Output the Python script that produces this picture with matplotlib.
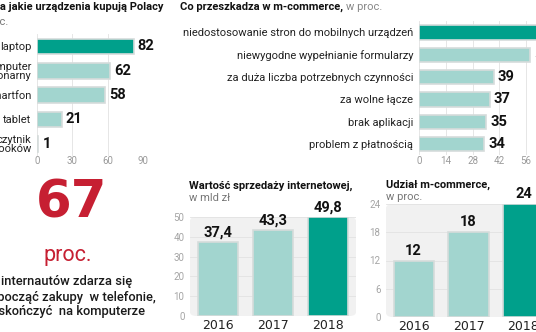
import matplotlib
matplotlib.use('Agg')
import matplotlib.pyplot as plt
from matplotlib import font_manager as fm
from matplotlib.patches import FancyBboxPatch

plt.rcParams['font.family'] = ['Roboto', 'DejaVu Sans']

# dane
urzadzenia = ['laptop', 'komputer\nstacjonarny', 'smartfon', 'tablet', 'czytnik\ne-booków']
urzadzenia_proc = [82, 62, 58, 21, 1]

przeszkody = ['niedostosowanie stron do mobilnych urządzeń', 'niewygodne wypełnianie formularzy',
              'za duża liczba potrzebnych czynności', 'za wolne łącze', 'brak aplikacji',
              'problem z płatnością']
przeszkody_proc = [65, 58, 39, 37, 35, 34]

lata = ['2016', '2017', '2018']
sprzedaz_mld = [37.4, 43.3, 49.8]
udzial_mcommerce = [12, 18, 24]

TEAL = '#00a08b'
LIGHT = '#a2d5cf'
EDGE = '#d6dcdb'
RED = '#c61f32'
W, H = 536, 332

# węższy krój na tytuły, jeśli jest
nazwy = {f.name for f in fm.fontManager.ttflist}
if 'Liberation Sans Narrow' in nazwy:
    TITLE = dict(family='Liberation Sans Narrow', fontsize=9.5, fontweight='bold')
else:
    TITLE = dict(family='Roboto', fontsize=8, fontweight='bold')

fig = plt.figure(figsize=(W / 100, H / 100), dpi=100)
fig.patch.set_facecolor('white')


def axes_px(x0, y0, x1, y1):
    return fig.add_axes([x0 / W, 1 - y1 / H, (x1 - x0) / W, (y1 - y0) / H])


def txt(x, y, s, **kw):
    return fig.text(x / W, 1 - y / H, s, **kw)


def fmt(v):
    return f'{v:g}'.replace('.', ',')


def hbar_panel(ax, labels, values, xmax, step):
    n = len(values)
    pos = list(range(n))
    colors = [TEAL] + [LIGHT] * (n - 1)
    ax.barh(pos, values, height=0.64, color=colors, edgecolor=EDGE, linewidth=1.2, zorder=3)
    for p, v in zip(pos, values):
        ax.annotate(fmt(v), (v, p), xytext=(3, 0), textcoords='offset points',
                    ha='left', va='center', fontsize=10.5, fontweight='bold', color='#111',
                    annotation_clip=False)
    ax.set_ylim(n - 0.5, -0.5)
    ax.set_xlim(0, xmax)
    ax.set_yticks(pos)
    ax.set_yticklabels(labels, fontsize=8, color='#222', linespacing=0.95)
    ax.set_xticks(range(0, xmax + 1, step))
    ax.tick_params(axis='y', length=0, pad=4)
    ax.tick_params(axis='x', length=0, pad=0.3, labelsize=7, labelcolor='#9a9a9a')
    ax.grid(axis='x', color='#e6e6e6', linewidth=0.7, zorder=0)
    for s in ax.spines.values():
        s.set_visible(False)


def vbar_panel(ax, values, ymax, step):
    pos = list(range(len(values)))
    colors = [LIGHT] * (len(values) - 1) + [TEAL]
    ax.patch.set_visible(False)
    ax.add_patch(FancyBboxPatch((0, 0), 1, 1, boxstyle='round,pad=0,rounding_size=0.04',
                                transform=ax.transAxes, fc='#f1f1f1', ec='none', zorder=0))
    ax.bar(pos, values, width=0.73, color=colors, edgecolor=EDGE, linewidth=1.2, zorder=3)
    for p, v in zip(pos, values):
        ax.annotate(fmt(v), (p, v), xytext=(0, 2), textcoords='offset points',
                    ha='center', va='bottom', fontsize=10.5, fontweight='bold', color='#111',
                    annotation_clip=False)
    ax.set_ylim(0, ymax)
    ax.set_yticks(range(0, ymax + 1, step))
    ax.set_xticks(pos)
    ax.set_xticklabels(lata, fontsize=9, color='#222', family='DejaVu Sans')
    ax.tick_params(axis='y', length=0, pad=4, labelsize=7, labelcolor='#a5a5a5')
    ax.tick_params(axis='x', length=0, pad=2.5)
    ax.grid(axis='y', color='#e2e2e2', linewidth=0.6, zorder=1)
    for s in ax.spines.values():
        s.set_visible(False)


# panel 1 - urządzenia
ax1 = axes_px(37, 34.3, 143, 156)
hbar_panel(ax1, urzadzenia, urzadzenia_proc, 90, 30)
txt(163, 7, 'Na jakie urządzenia kupują Polacy', ha='right', va='center', color='#111', **TITLE)
txt(8, 22, 'w proc.', ha='right', va='center', fontsize=8, color='#777')

# panel 2 - przeszkody
ax2 = axes_px(419, 21.3, 553, 155.2)
hbar_panel(ax2, przeszkody, przeszkody_proc, 70, 14)
t = txt(180, 7, 'Co przeszkadza w m-commerce,', ha='left', va='center', color='#111', **TITLE)
fig.canvas.draw()
bb = t.get_window_extent()
txt(bb.x1 + 3, 7, 'w proc.', ha='left', va='center', fontsize=8, color='#888')

# duża liczba
txt(72, 203, '67', ha='center', va='center', fontsize=37, fontweight='bold',
    color=RED, family='DejaVu Sans')
txt(68, 256, 'proc.', ha='center', va='center', fontsize=15.5, fontweight='normal', color=RED)
txt(67, 297, 'internautów zdarza się\nrozpocząć zakupy  w telefonie,\na skończyć  na komputerze',
    ha='center', va='center', fontsize=9.3, fontweight='medium', color='#1a1a1a',
    linespacing=1.2)

# panel 3 - wartość sprzedaży
ax3 = axes_px(190, 217, 356, 316)
vbar_panel(ax3, sprzedaz_mld, 50, 10)
txt(189, 186, 'Wartość sprzedaży internetowej,', ha='left', va='center', color='#111', **TITLE)
txt(189, 198, 'w mld zł', ha='left', va='center', fontsize=8, color='#777')

# panel 4 - udział m-commerce
ax4 = axes_px(386, 204, 551, 317)
vbar_panel(ax4, udzial_mcommerce, 24, 6)
txt(386, 185, 'Udział m-commerce,', ha='left', va='center', color='#111', **TITLE)
txt(386, 197, 'w proc.', ha='left', va='center', fontsize=8, color='#777')

fig.savefig('out.png', dpi=100)
